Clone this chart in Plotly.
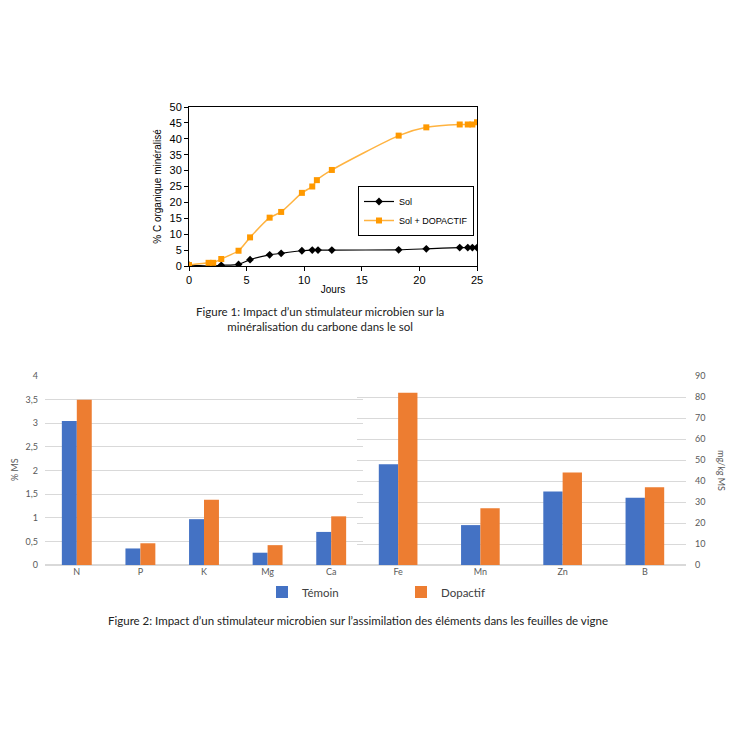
import plotly.graph_objects as go

# ---- Figure 1 data ----
sol_days = [0, 1.8, 2.0, 2.8, 4.3, 5.3, 7.0, 8.0, 9.8, 10.7, 11.2, 12.4, 18.2, 20.6, 23.5, 24.2, 24.6, 25.0]
sol_vals = [0.3, 0.0, 0.0, 0.2, 0.5, 2.0, 3.5, 4.0, 4.8, 5.0, 5.0, 5.0, 5.1, 5.4, 5.8, 5.8, 5.8, 5.8]
dop_days = [0, 1.7, 2.1, 2.8, 4.3, 5.3, 7.0, 8.0, 9.8, 10.7, 11.1, 12.4, 18.2, 20.6, 23.5, 24.2, 24.6, 25.0]
dop_vals = [0.3, 1.0, 1.0, 2.2, 4.8, 9.0, 15.2, 17.0, 23.0, 25.0, 27.0, 30.2, 41.0, 43.6, 44.5, 44.5, 44.5, 45.2]

# ---- Figure 2 data ----
macro_elems = ["N", "P", "K", "Mg", "Ca"]
macro_temoin = [3.05, 0.35, 0.97, 0.26, 0.70]
macro_dopactif = [3.50, 0.46, 1.38, 0.42, 1.03]
micro_elems = ["Fe", "Mn", "Zn", "B"]
micro_temoin = [48, 19, 35, 32]
micro_dopactif = [82, 27, 44, 37]

BLUE = "#4472C4"
ORANGE = "#ED7D31"
GRID = "#D9D9D9"
TICK = "#595959"
BAR_FONT = "Lato"

# page has an 8px body margin: figure is 724 px, placed at (8, 8)
S = 724.0
OFF = 8.0
def fx(px):
    return (px - OFF) / S
def fy(py):
    return 1 - (py - OFF) / S

fig = go.Figure()

# Figure 1 traces
fig.add_trace(go.Scatter(
    x=sol_days, y=sol_vals, mode="lines+markers", name="Sol",
    line=dict(color="#000000", width=1.2, shape="spline", smoothing=0.6),
    marker=dict(symbol="diamond", size=6, color="#000000"),
    xaxis="x", yaxis="y", legend="legend"))
fig.add_trace(go.Scatter(
    x=dop_days, y=dop_vals, mode="lines+markers", name="Sol + DOPACTIF",
    line=dict(color="#FFB340", width=1.5, shape="spline", smoothing=0.6),
    marker=dict(symbol="square", size=6, color="#FF9900"),
    xaxis="x", yaxis="y", legend="legend"))

# Figure 2 traces
fig.add_trace(go.Bar(x=macro_elems, y=macro_temoin, name="Témoin", marker_color=BLUE,
                     marker_line=dict(width=0), xaxis="x2", yaxis="y2",
                     legend="legend2", offsetgroup="t"))
fig.add_trace(go.Bar(x=macro_elems, y=macro_dopactif, name="Dopactif", marker_color=ORANGE,
                     marker_line=dict(width=0), xaxis="x2", yaxis="y2",
                     legend="legend2", offsetgroup="d"))
fig.add_trace(go.Bar(x=micro_elems, y=micro_temoin, name="Témoin", marker_color=BLUE,
                     marker_line=dict(width=0), xaxis="x3", yaxis="y3",
                     legend="legend2", showlegend=False, offsetgroup="t"))
fig.add_trace(go.Bar(x=micro_elems, y=micro_dopactif, name="Dopactif", marker_color=ORANGE,
                     marker_line=dict(width=0), xaxis="x3", yaxis="y3",
                     legend="legend2", showlegend=False, offsetgroup="d"))

arial = dict(family="Liberation Sans, Arial", size=11, color="#000000")
arial_t = dict(family="Liberation Sans, Arial", size=10, color="#000000")
barticks = dict(family=BAR_FONT, size=9, color=TICK)

fig.update_layout(
    width=int(S), height=int(S),
    margin=dict(l=0, r=0, t=0, b=0, autoexpand=False),
    paper_bgcolor="white", plot_bgcolor="rgba(0,0,0,0)",
    barmode="group", bargap=0.53, bargroupgap=0,
    showlegend=True,
    separators=", ",
    xaxis=dict(domain=[fx(189), fx(477)], range=[0, 25], dtick=5, tick0=0,
               showgrid=False, zeroline=False, showline=True, linecolor="#000000",
               linewidth=1, mirror=True, ticks="outside", ticklen=4, tickcolor="#000000",
               tickfont=arial, anchor="y", automargin=False,
               title=dict(text="Jours", font=arial_t, standoff=0)),
    yaxis=dict(domain=[fy(266), fy(107)], range=[0, 50], dtick=5, tick0=0,
               showgrid=False, zeroline=False, showline=True, linecolor="#000000",
               linewidth=1, mirror=True, ticks="outside", ticklen=4, tickcolor="#000000",
               tickfont=arial, anchor="x", automargin=False,
               title=dict(text="% C organique minéralisé", font=arial_t, standoff=6)),
    xaxis2=dict(domain=[fx(45), fx(363)], anchor="y2", showgrid=False, showline=False,
                zeroline=False, ticks="", tickfont=barticks, automargin=False),
    yaxis2=dict(domain=[fy(565), fy(376)], anchor="x2", range=[0, 4], dtick=0.5,
                showgrid=True, gridcolor=GRID, gridwidth=1, zeroline=True,
                zerolinecolor=GRID, showline=False, ticks="", ticklabelstandoff=6,
                tickfont=barticks, tickformat=",.1~f", automargin=False),
    xaxis3=dict(domain=[fx(357), fx(686)], anchor="y3", showgrid=False, showline=False,
                zeroline=False, ticks="", tickfont=barticks, automargin=False),
    yaxis3=dict(domain=[fy(565), fy(376)], anchor="x3", side="right", range=[0, 90],
                dtick=10, showgrid=True, gridcolor=GRID, gridwidth=1, zeroline=True,
                zerolinecolor=GRID, showline=False, ticks="", ticklabelstandoff=8,
                tickfont=barticks, automargin=False),
    legend=dict(x=fx(358), y=fy(186), xanchor="left", yanchor="top",
                bgcolor="white", bordercolor="#000000", borderwidth=1,
                font=dict(family="Liberation Sans, Arial", size=9, color="#000000"),
                tracegroupgap=0, itemwidth=30, traceorder="normal"),
    legend2=dict(x=fx(262), y=fy(592), xanchor="left", yanchor="middle",
                 orientation="h", bgcolor="rgba(0,0,0,0)", borderwidth=0,
                 font=dict(family=BAR_FONT, size=11.5, color="#404040"),
                 itemwidth=30, entrywidth=94, entrywidthmode="pixels",
                 traceorder="normal"),
    annotations=[
        dict(text="% MS", x=fx(14), y=fy(470), xref="paper", yref="paper",
             xanchor="center", yanchor="middle",
             showarrow=False, textangle=-90, font=barticks),
        dict(text="mg/kg MS", x=fx(722), y=fy(470), xref="paper", yref="paper",
             xanchor="center", yanchor="middle",
             showarrow=False, textangle=90, font=barticks),
        dict(text="Figure 1: Impact d’un stimulateur microbien sur la<br>minéralisation du carbone dans le sol",
             x=fx(320), y=fy(319), xref="paper", yref="paper", showarrow=False,
             xanchor="center", yanchor="middle",
             align="center", font=dict(family=BAR_FONT, size=11.5, color="#222222")),
        dict(text="Figure 2: Impact d’un stimulateur microbien sur l’assimilation des éléments dans les feuilles de vigne",
             x=fx(358), y=fy(620), xref="paper", yref="paper", showarrow=False,
             xanchor="center", yanchor="middle",
             font=dict(family=BAR_FONT, size=11.5, color="#222222")),
    ],
)

fig.write_html("out.html")
